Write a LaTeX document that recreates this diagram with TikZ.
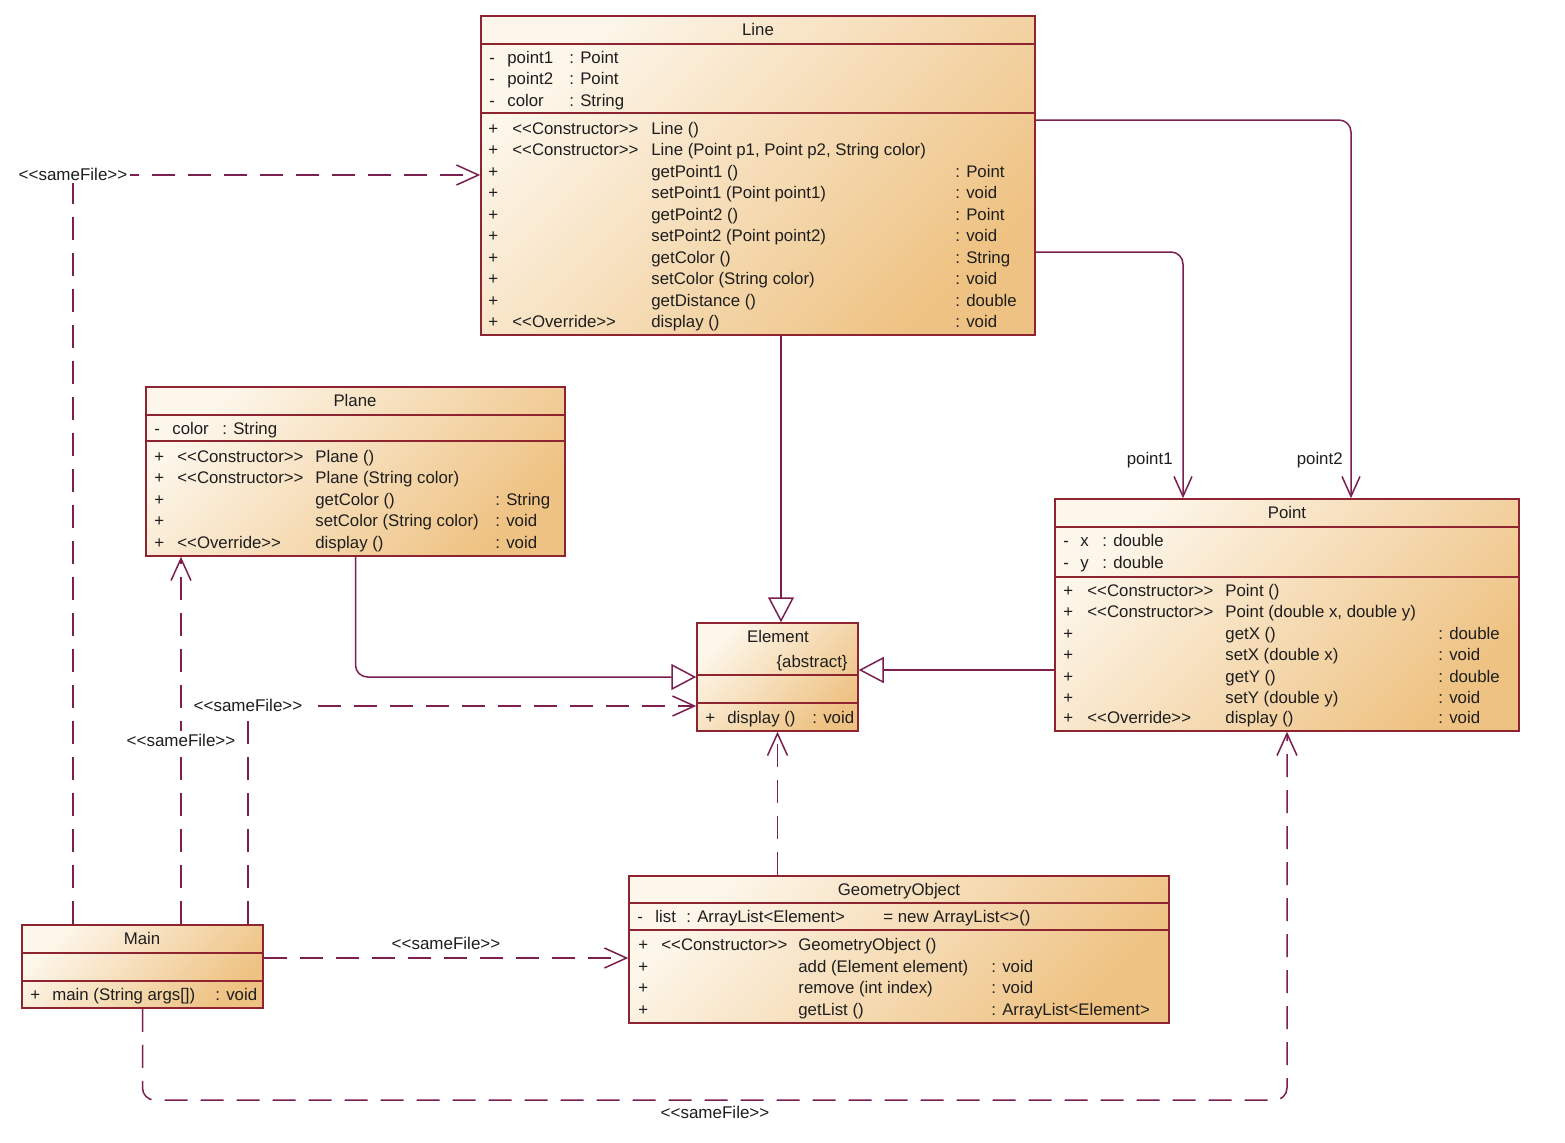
\documentclass[tikz,border=0pt]{standalone}
\usepackage{fontspec}
\setmainfont{Liberation Sans}
\usetikzlibrary{arrows.meta,fit,calc}
\definecolor{bordc}{HTML}{8E2430}
\definecolor{linkc}{HTML}{7A1F50}
\definecolor{gtop}{HTML}{FDF6EA}
\definecolor{gbot}{HTML}{EEC282}
\definecolor{txtc}{HTML}{1E1E1E}
\newcommand\stereo[1]{<\kern0pt<#1>\kern0pt>}
\tikzset{
  cls/.style={draw=bordc, line width=0.75pt, top color=gtop, bottom color=gbot, shading angle=45, inner sep=0pt},
  divl/.style={draw=bordc, line width=0.75pt},
  txt/.style={inner sep=0pt, anchor=base west, font=\fontsize{8.4}{10}\selectfont, text=txtc},
  ctxt/.style={txt, anchor=base},
  rtxt/.style={txt, anchor=base east},
  gen/.style={draw=linkc, line width=0.75pt, -{Triangle[open, length=12.5pt, width=13pt]}},
  assoc/.style={draw=linkc, line width=0.75pt, rounded corners=6pt, -{Straight Barb[length=10pt, width=9pt]}},
  dep/.style={draw=linkc, line width=0.75pt, dash pattern=on 11.5pt off 6.5pt, -{Straight Barb[length=11pt, width=10pt]}},
  sf/.style={fill=white, inner sep=1.5pt, font=\fontsize{8.5}{10}\selectfont, text=txtc},
  rlbl/.style={inner sep=0pt, anchor=base east, font=\fontsize{8.4}{10}\selectfont, text=txtc}
}
% method row: prefix, x+, xstereo, xname, xret, y, stereo, name, ret
\newcommand\M[9]{%
  \node[txt] (#1p) at (#2,#6+6) {+};
  \node[txt] (#1s) at (#3,#6+6) {#7};
  \node[txt] (#1n) at (#4,#6+6) {#8};
  \node[txt] (#1r) at (#5,#6+6) {#9};}
% attribute row: prefix, x-, xname, xtype, y, name, type
\newcommand\A[7]{%
  \node[txt] (#1m) at (#2,#5+6) {-};
  \node[txt] (#1n) at (#3,#5+6) {#6};
  \node[txt] (#1t) at (#4,#5+6) {#7};}
\begin{document}
\begin{tikzpicture}[x=0.5pt, y=-0.5pt]
\useasboundingbox (0,0) rectangle (1565,1142);
\fill[white] (0,0) rectangle (1565,1142);

% ---------------- Line ----------------
\node[cls, fit={(481,16) (1035,335)}] (Line) {};
\draw[divl] (Line.west |- 0,44) -- (Line.east |- 0,44);
\draw[divl] (Line.west |- 0,113) -- (Line.east |- 0,113);
\node[ctxt] (LineT) at (758,29+6) {Line};
\A{la1}{489}{507}{569}{57}{point1}{: Point}
\A{la2}{489}{507}{569}{78}{point2}{: Point}
\A{la3}{489}{507}{569}{100}{color}{: String}
\M{lm1}{488}{512}{651}{955}{128}{\stereo{Constructor}}{Line ()}{}
\M{lm2}{488}{512}{651}{955}{149}{\stereo{Constructor}}{Line (Point p1, Point p2, String color)}{}
\M{lm3}{488}{512}{651}{955}{171}{}{getPoint1 ()}{: Point}
\M{lm4}{488}{512}{651}{955}{192}{}{setPoint1 (Point point1)}{: void}
\M{lm5}{488}{512}{651}{955}{214}{}{getPoint2 ()}{: Point}
\M{lm6}{488}{512}{651}{955}{235}{}{setPoint2 (Point point2)}{: void}
\M{lm7}{488}{512}{651}{955}{257}{}{getColor ()}{: String}
\M{lm8}{488}{512}{651}{955}{278}{}{setColor (String color)}{: void}
\M{lm9}{488}{512}{651}{955}{300}{}{getDistance ()}{: double}
\M{lm10}{488}{512}{651}{955}{321}{\stereo{Override}}{display ()}{: void}

% ---------------- Plane ----------------
\node[cls, fit={(146,387) (565,556)}] (Plane) {};
\draw[divl] (Plane.west |- 0,415) -- (Plane.east |- 0,415);
\draw[divl] (Plane.west |- 0,441) -- (Plane.east |- 0,441);
\node[ctxt] (PlaneT) at (355,400+6) {Plane};
\A{pa1}{154}{172}{222}{428}{color}{: String}
\M{pm1}{154}{177}{315}{495}{456}{\stereo{Constructor}}{Plane ()}{}
\M{pm2}{154}{177}{315}{495}{477}{\stereo{Constructor}}{Plane (String color)}{}
\M{pm3}{154}{177}{315}{495}{499}{}{getColor ()}{: String}
\M{pm4}{154}{177}{315}{495}{520}{}{setColor (String color)}{: void}
\M{pm5}{154}{177}{315}{495}{542}{\stereo{Override}}{display ()}{: void}

% ---------------- Point ----------------
\node[cls, fit={(1055,499) (1519,731)}] (Point) {};
\draw[divl] (Point.west |- 0,527) -- (Point.east |- 0,527);
\draw[divl] (Point.west |- 0,577) -- (Point.east |- 0,577);
\node[ctxt] (PointT) at (1287,512+6) {Point};
\A{qa1}{1063}{1080}{1102}{540}{x}{: double}
\A{qa2}{1063}{1080}{1102}{562}{y}{: double}
\M{qm1}{1063}{1087}{1225}{1438}{590}{\stereo{Constructor}}{Point ()}{}
\M{qm2}{1063}{1087}{1225}{1438}{611}{\stereo{Constructor}}{Point (double x, double y)}{}
\M{qm3}{1063}{1087}{1225}{1438}{633}{}{getX ()}{: double}
\M{qm4}{1063}{1087}{1225}{1438}{654}{}{setX (double x)}{: void}
\M{qm5}{1063}{1087}{1225}{1438}{676}{}{getY ()}{: double}
\M{qm6}{1063}{1087}{1225}{1438}{697}{}{setY (double y)}{: void}
\M{qm7}{1063}{1087}{1225}{1438}{717}{\stereo{Override}}{display ()}{: void}

% ---------------- Element ----------------
\node[cls, fit={(697,623) (858,731)}] (Element) {};
\draw[divl] (Element.west |- 0,675) -- (Element.east |- 0,675);
\draw[divl] (Element.west |- 0,703) -- (Element.east |- 0,703);
\node[ctxt] (ElementT) at (778,636+6) {Element};
\node[rtxt] (ElementA) at (848,661+6) {\{abstract\}};
\node[txt] (em1p) at (705,717+6) {+};
\node[txt] (em1n) at (727,717+6) {display ()};
\node[txt] (em1r) at (812,717+6) {: void};

% ---------------- GeometryObject ----------------
\node[cls, fit={(629,876) (1169,1023)}] (GeometryObject) {};
\draw[divl] (GeometryObject.west |- 0,903) -- (GeometryObject.east |- 0,903);
\draw[divl] (GeometryObject.west |- 0,930) -- (GeometryObject.east |- 0,930);
\node[ctxt] (GeoT) at (899,889+6) {GeometryObject};
\A{ga1}{637}{655}{686}{916}{list}{: ArrayList<Element>}
\node[txt] (ga1d) at (883,916+6) {= new ArrayList<>()};
\M{gm1}{638}{661}{798}{991}{944}{\stereo{Constructor}}{GeometryObject ()}{}
\M{gm2}{638}{661}{798}{991}{966}{}{add (Element element)}{: void}
\M{gm3}{638}{661}{798}{991}{987}{}{remove (int index)}{: void}
\M{gm4}{638}{661}{798}{991}{1009}{}{getList ()}{: ArrayList<Element>}

% ---------------- Main ----------------
\node[cls, fit={(22,925) (263,1008)}] (Main) {};
\draw[divl] (Main.west |- 0,953) -- (Main.east |- 0,953);
\draw[divl] (Main.west |- 0,981) -- (Main.east |- 0,981);
\node[ctxt] (MainT) at (142,938+6) {Main};
\node[txt] (mm1p) at (30,994+6) {+};
\node[txt] (mm1n) at (52,994+6) {main (String args[])};
\node[txt] (mm1r) at (215,994+6) {: void};

% ---------------- connectors ----------------
% generalizations
\draw[gen] (Line.south -| 781,0) -- (Element.north -| 781,0);
\draw[gen, rounded corners=6pt] (Plane.south) |- (Element.west);
\draw[gen] (Point.west |- 0,670) -- (Element.east |- 0,670);
% associations
\draw[assoc] (Line.east |- 0,252) -| (Point.north -| 1183,0);
\draw[assoc] (Line.east |- 0,120) -| (Point.north -| 1351,0);
\node[rlbl] (lp1) at (1173,458+6) {point1};
\node[rlbl] (lp2) at (1343,458+6) {point2};
% dependencies
\draw[dep] (Main.north -| 73,0) |- (Line.west |- 0,175);
\node[sf] (sf1) at (73,174) {\stereo{sameFile}};
\draw[dep] (Main.north -| 181,0) -- (Plane.south -| 181,0);
\node[sf] (sf2) at (181,740) {\stereo{sameFile}};
\draw[dep] (Main.north -| 248,0) |- (Element.west |- 0,706);
\node[sf] (sf3) at (248,705) {\stereo{sameFile}};
\draw[dep] (Main.east |- 0,958) -- (GeometryObject.west |- 0,958);
\node[sf] (sf4) at (446,943) {\stereo{sameFile}};
\draw[dep] (GeometryObject.north -| Element.south) -- (Element.south);
\draw[dep, rounded corners=6pt] (Main.south) |- (Point.south |- 0,1100) -- (Point.south);
\node[sf] (sf5) at (715,1112) {\stereo{sameFile}};
\end{tikzpicture}
\end{document}
